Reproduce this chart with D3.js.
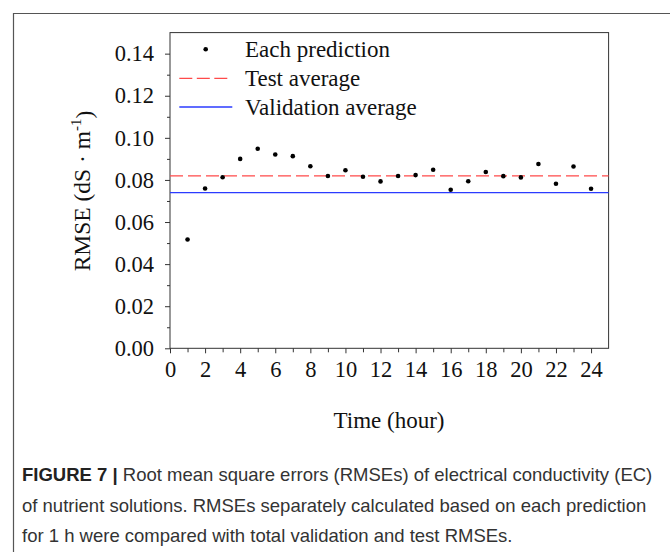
<!DOCTYPE html>
<html><head><meta charset="utf-8">
<script src="https://cdn.jsdelivr.net/npm/d3@7"></script>
<style>body{margin:0;background:#fff}svg{display:block}</style>
</head><body>
<svg id="c" width="670" height="552"></svg>
<script>
const hours = [1,2,3,4,5,6,7,8,9,10,11,12,13,14,15,16,17,18,19,20,21,22,23,24];
const rmse = [0.0517,0.0759,0.0813,0.0900,0.0948,0.0921,0.0913,0.0865,0.0819,0.0846,0.0815,0.0793,0.0819,0.0823,0.0848,0.0753,0.0794,0.0838,0.0818,0.0812,0.0876,0.0782,0.0864,0.0758];
const testAverage = 0.0819;
const validationAverage = 0.0740;
const yTicks = [0,0.02,0.04,0.06,0.08,0.10,0.12,0.14];
const xTicks = [0,2,4,6,8,10,12,14,16,18,20,22,24];
const legendLabels = ["Each prediction","Test average","Validation average"];

const svg = d3.select("#c");
const L=170, R=608.6, T=32.6, B=348.3;
const x = d3.scaleLinear().domain([0,25]).range([L,R]);
const y = d3.scaleLinear().domain([0,0.15]).range([B,T]);
const serif = "'Liberation Serif','Times New Roman',serif";
const red = "#ff4a4a", blue = "#2b3bff";

// outer frame
svg.append("path").attr("d","M13.5,552 L13.5,13.5 L670,13.5").attr("fill","none").attr("stroke","#555").attr("stroke-width",1.2);

// plot box
svg.append("rect").attr("x",L).attr("y",T).attr("width",R-L).attr("height",B-T)
  .attr("fill","none").attr("stroke","#333").attr("stroke-width",1);

// y axis
const ya = svg.append("g").attr("transform",`translate(${L},0)`)
  .call(d3.axisLeft(y).tickValues(yTicks).tickFormat(d3.format(".2f")).tickSize(5).tickPadding(11));
ya.select(".domain").remove();
svg.append("g").attr("transform",`translate(${L},0)`)
  .call(d3.axisLeft(y).tickValues(d3.range(0.01,0.15,0.02)).tickFormat("").tickSize(3))
  .select(".domain").remove();
// x axis
const xa = svg.append("g").attr("transform",`translate(0,${B})`)
  .call(d3.axisBottom(x).tickValues(xTicks).tickSize(5).tickPadding(8));
xa.select(".domain").remove();
svg.append("g").attr("transform",`translate(0,${B})`)
  .call(d3.axisBottom(x).tickValues(d3.range(1,25,2)).tickFormat("").tickSize(4))
  .select(".domain").remove();
svg.selectAll(".tick line").attr("stroke","#333");
svg.selectAll(".tick text").attr("font-family",serif).attr("font-size",22.5).attr("fill","#111");

// reference lines
svg.append("line").attr("x1",L).attr("x2",R).attr("y1",y(testAverage)).attr("y2",y(testAverage))
  .attr("stroke",red).attr("stroke-width",1.3).attr("stroke-dasharray","13,5");
svg.append("line").attr("x1",L).attr("x2",R).attr("y1",y(validationAverage)).attr("y2",y(validationAverage))
  .attr("stroke",blue).attr("stroke-width",1.3);

// points
svg.append("g").selectAll("circle").data(hours).join("circle")
  .attr("cx",d=>x(d)).attr("cy",(d,i)=>y(rmse[i])).attr("r",2.3).attr("fill","#000");

// legend
const lg = svg.append("g");
lg.append("circle").attr("cx",205.7).attr("cy",49.3).attr("r",2.3).attr("fill","#000");
lg.append("line").attr("x1",179.3).attr("x2",227.3).attr("y1",78.3).attr("y2",78.3)
  .attr("stroke",red).attr("stroke-width",1.3).attr("stroke-dasharray","13,4.5");
lg.append("line").attr("x1",179.3).attr("x2",232.3).attr("y1",107).attr("y2",107)
  .attr("stroke",blue).attr("stroke-width",1.3);
legendLabels.forEach((t,i)=>{
  lg.append("text").attr("x",245).attr("y",49.3+i*29).attr("dy","0.35em")
    .attr("font-family",serif).attr("font-size",23).attr("fill","#111").text(t);
});

// axis titles
const yt = svg.append("text").attr("transform","translate(82,191) rotate(-90)")
  .attr("text-anchor","middle").attr("dy","0.35em").attr("font-family",serif).attr("font-size",23.5).attr("fill","#111");
yt.append("tspan").text("RMSE (dS · m");
yt.append("tspan").attr("font-size",15).attr("dy","-0.6em").text("-1");
yt.append("tspan").attr("dy","0.45em").text(")");
svg.append("text").attr("x",389).attr("y",420).attr("dy","0.35em").attr("text-anchor","middle")
  .attr("font-family",serif).attr("font-size",23).attr("fill","#111").text("Time (hour)");

// caption
const sans = "'Liberation Sans',Arial,sans-serif";
const cap = svg.append("g").attr("font-family",sans).attr("font-size",18.5).attr("fill","#333");
const l1 = cap.append("text").attr("x",22).attr("y",481);
l1.append("tspan").attr("font-weight","bold").attr("fill","#222").text("FIGURE 7 | ");
l1.append("tspan").text("Root mean square errors (RMSEs) of electrical conductivity (EC)");
cap.append("text").attr("x",22).attr("y",512).text("of nutrient solutions. RMSEs separately calculated based on each prediction");
cap.append("text").attr("x",22).attr("y",542).text("for 1 h were compared with total validation and test RMSEs.");
</script>
</body></html>
